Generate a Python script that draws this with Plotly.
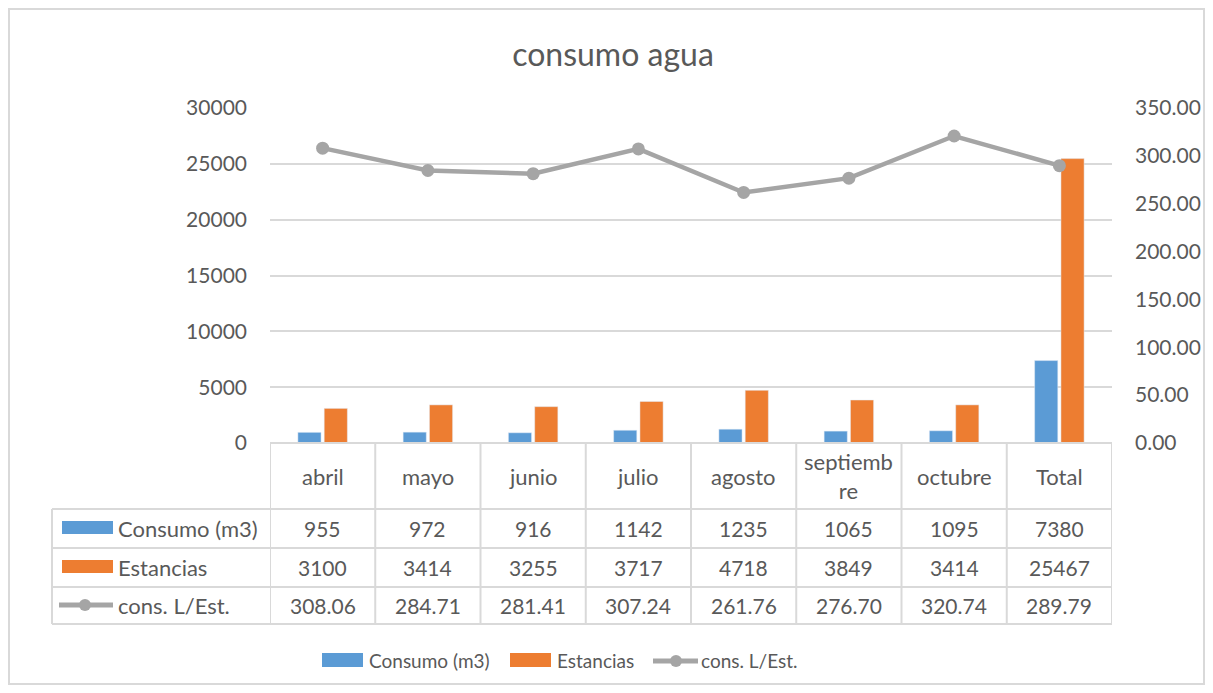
import plotly.graph_objects as go

categories = ["abril", "mayo", "junio", "julio", "agosto", "septiembre", "octubre", "Total"]
cat_labels = ["abril", "mayo", "junio", "julio", "agosto", "septiemb<br>re", "octubre", "Total"]
consumo = [955, 972, 916, 1142, 1235, 1065, 1095, 7380]
estancias = [3100, 3414, 3255, 3717, 4718, 3849, 3414, 25467]
cons_l_est = [308.06, 284.71, 281.41, 307.24, 261.76, 276.70, 320.74, 289.79]
series_names = ["Consumo (m3)", "Estancias", "cons. L/Est."]

BLUE = "#5B9BD5"
ORANGE = "#ED7D31"
GRAY = "#A5A5A5"
TXT = "#595959"
GRID = "#D9D9D9"
FONT = "Lato"

OFF = 8  # page body margin
W, H = 1197, 677
L, T = 270 - OFF, 108 - OFF
R = W - (1112 - OFF)
B = H - (443 - OFF)
PW, PH = W - L - R, H - T - B


def px_x(p):
    """reference-image pixel x -> paper x"""
    return (p - OFF - L) / PW


def px_y(p):
    """reference-image pixel y -> paper y"""
    return (H - B - (p - OFF)) / PH


x_idx = list(range(len(categories)))

fig = go.Figure()
fig.add_trace(go.Bar(x=x_idx, y=consumo, name=series_names[0], marker_color=BLUE, yaxis="y"))
fig.add_trace(go.Bar(x=x_idx, y=estancias, name=series_names[1], marker_color=ORANGE, yaxis="y"))
fig.add_trace(go.Scatter(x=x_idx, y=cons_l_est, name=series_names[2], mode="lines+markers",
                         line=dict(color=GRAY, width=4.5), marker=dict(color=GRAY, size=13),
                         yaxis="y2"))

shapes = []
annotations = []
line_style = dict(color=GRID, width=2)

row_lines = [509, 548, 587, 624]
table_left = 52
shapes.append(dict(type="line", xref="paper", yref="paper", x0=0, x1=1,
                   y0=px_y(443), y1=px_y(443), line=line_style))
for ry in row_lines:
    shapes.append(dict(type="line", xref="paper", yref="paper", x0=px_x(table_left), x1=1,
                       y0=px_y(ry), y1=px_y(ry), line=line_style))
for i in range(len(categories) + 1):
    shapes.append(dict(type="line", xref="x", yref="paper", x0=i - 0.5, x1=i - 0.5,
                       y0=px_y(443), y1=px_y(624), line=line_style))
shapes.append(dict(type="line", xref="paper", yref="paper", x0=px_x(table_left), x1=px_x(table_left),
                   y0=px_y(509), y1=px_y(624), line=line_style))
# outer chart border
shapes.append(dict(type="rect", xref="paper", yref="paper", x0=px_x(9), x1=px_x(1204),
                   y0=px_y(684), y1=px_y(9), line=dict(color=GRID, width=2), layer="below"))

# legend keys inside table
shapes.append(dict(type="rect", xref="paper", yref="paper", x0=px_x(62), x1=px_x(113),
                   y0=px_y(534), y1=px_y(521), fillcolor=BLUE, line=dict(width=0)))
shapes.append(dict(type="rect", xref="paper", yref="paper", x0=px_x(62), x1=px_x(113),
                   y0=px_y(573), y1=px_y(560), fillcolor=ORANGE, line=dict(width=0)))
shapes.append(dict(type="line", xref="paper", yref="paper", x0=px_x(59), x1=px_x(113),
                   y0=px_y(605), y1=px_y(605), line=dict(color=GRAY, width=5)))
shapes.append(dict(type="circle", xref="paper", yref="paper", x0=px_x(79), x1=px_x(91),
                   y0=px_y(611), y1=px_y(599), fillcolor=GRAY, line=dict(width=0)))

lab_font = dict(family=FONT, size=22, color=TXT)
num_font = dict(family=FONT, size=21, color=TXT)
row_centers = [528, 567, 605]
for name, yc in zip(series_names, row_centers):
    annotations.append(dict(xref="paper", yref="paper", x=px_x(116), y=px_y(yc), text=name,
                            showarrow=False, xanchor="left", yanchor="middle", font=lab_font))

for i, lab in enumerate(cat_labels):
    annotations.append(dict(xref="x", yref="paper", x=i, y=px_y(476), text=lab, showarrow=False,
                            xanchor="center", yanchor="middle", font=lab_font))
    annotations.append(dict(xref="x", yref="paper", x=i, y=px_y(row_centers[0]), text=str(consumo[i]),
                            showarrow=False, xanchor="center", yanchor="middle", font=num_font))
    annotations.append(dict(xref="x", yref="paper", x=i, y=px_y(row_centers[1]), text=str(estancias[i]),
                            showarrow=False, xanchor="center", yanchor="middle", font=num_font))
    annotations.append(dict(xref="x", yref="paper", x=i, y=px_y(row_centers[2]), text=f"{cons_l_est[i]:.2f}",
                            showarrow=False, xanchor="center", yanchor="middle", font=num_font))

# bottom legend drawn manually (Excel-style wide keys)
leg_font = dict(family=FONT, size=19, color=TXT)
leg_y = 660
shapes.append(dict(type="rect", xref="paper", yref="paper", x0=px_x(322), x1=px_x(363),
                   y0=px_y(667), y1=px_y(653), fillcolor=BLUE, line=dict(width=0)))
annotations.append(dict(xref="paper", yref="paper", x=px_x(367), y=px_y(leg_y), text=series_names[0],
                        showarrow=False, xanchor="left", yanchor="middle", font=leg_font))
shapes.append(dict(type="rect", xref="paper", yref="paper", x0=px_x(510), x1=px_x(551),
                   y0=px_y(667), y1=px_y(653), fillcolor=ORANGE, line=dict(width=0)))
annotations.append(dict(xref="paper", yref="paper", x=px_x(555), y=px_y(leg_y), text=series_names[1],
                        showarrow=False, xanchor="left", yanchor="middle", font=leg_font))
shapes.append(dict(type="line", xref="paper", yref="paper", x0=px_x(653), x1=px_x(698),
                   y0=px_y(661), y1=px_y(661), line=dict(color=GRAY, width=5)))
shapes.append(dict(type="circle", xref="paper", yref="paper", x0=px_x(670), x1=px_x(682),
                   y0=px_y(667), y1=px_y(655), fillcolor=GRAY, line=dict(width=0)))
annotations.append(dict(xref="paper", yref="paper", x=px_x(699), y=px_y(leg_y), text=series_names[2],
                        showarrow=False, xanchor="left", yanchor="middle", font=leg_font))

fig.update_layout(
    width=W, height=H,
    margin=dict(l=L, r=R, t=T, b=B, autoexpand=False),
    paper_bgcolor="white", plot_bgcolor="white",
    font=dict(family=FONT, size=18, color=TXT),
    title=dict(text="consumo agua", x=(613 - OFF) / W, xanchor="center", y=1 - (55 - OFF) / H,
               yanchor="middle", font=dict(family=FONT, size=32, color=TXT)),
    barmode="group", bargap=0.5, bargroupgap=0.12,
    xaxis=dict(range=[-0.5, len(categories) - 0.5], showticklabels=False, showgrid=False,
               zeroline=False, showline=False, ticks=""),
    yaxis=dict(range=[0, 30000], dtick=5000, showgrid=True, gridcolor=GRID, gridwidth=1.5,
               zeroline=False, showline=False, tickformat="d", ticks="", ticklabelstandoff=22,
               tickfont=dict(family=FONT, size=21, color=TXT)),
    yaxis2=dict(range=[0, 350], dtick=50, overlaying="y", side="right", showgrid=False,
                zeroline=False, showline=False, tickformat=".2f", ticks="", ticklabelstandoff=22,
                tickfont=dict(family=FONT, size=21, color=TXT)),
    shapes=shapes, annotations=annotations,
    showlegend=False,
)

fig.write_html("out.html")
